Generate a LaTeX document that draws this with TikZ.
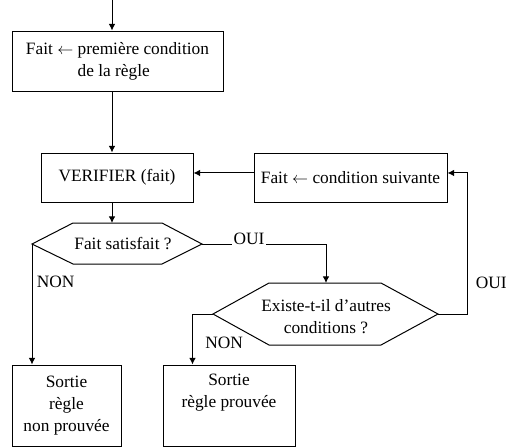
\documentclass[tikz,border=0pt]{standalone}
\usepackage{fontspec}
\setmainfont{Liberation Serif}
\usepackage{tikz}
\usetikzlibrary{positioning}
\usetikzlibrary{arrows.meta,shapes}
\usetikzlibrary{calc}
\tikzstyle{box}=[rectangle,draw,align=center,inner sep=0pt]
\tikzstyle{edge} = [draw,-{Latex[length=5pt,width=5pt]}]
\tikzstyle{hexedge} = [draw]
\tikzstyle{weight} = [inner sep=1pt]
\tikzset{hextext/.style={align=center,inner sep=0pt}}

\begin{document}
\begin{tikzpicture}[x=0.75pt,y=-0.75pt,line width=0.75pt,font=\fontsize{13}{16.5}\selectfont]
\useasboundingbox (0,0) rectangle (532,447);

 %first condition
 \node[box,minimum width=158.25pt,minimum height=45pt,align=left] (prem) at (117.5,61)
   {Fait $\leftarrow$ première condition\\\hphantom{Fait $\leftarrow$ }de la règle};

 %verifier + next condition
 \foreach \x/\y/\w/\name/\label in {117/177.5/152/verif/{VERIFIER (fait)}, 350.5/177.5/193/suiv/{Fait $\leftarrow$ condition suivante}}
          \node[box,minimum width=\w*0.75pt,minimum height=36.75pt] (\name) at (\x,\y) {\label};

 %exits
 \foreach \x/\y/\w/\name/\label in {66.5/405.5/109/sortA/{Sortie\\règle\\non prouvée}, 229/405.5/132/sortB/{Sortie\\règle prouvée\\\strut}}
          \node[box,minimum width=\w*0.75pt,minimum height=60.75pt] (\name) at (\x,\y) {\label};

 %Fait satisfait ?
 \node[hextext] (sat) at (123,244) {Fait satisfait ?};
 \coordinate (satL) at (32,244);
 \coordinate (satR) at (202,244);
 \coordinate (satT) at (117,223);
 \path[hexedge] (satL) -- (73,223) -- (162,223) -- (satR) -- (162,264) -- (73,264) -- cycle;

 %Existe-t-il ...
 \node[hextext] (exist) at (326,317) {Existe-t-il d’autres\\conditions ?};
 \coordinate (exL) at (213,314);
 \coordinate (exR) at (438,314);
 \coordinate (exT) at (326,283);
 \path[hexedge] (exL) -- (269,283) -- (381,283) -- (exR) -- (381,345) -- (269,345) -- cycle;

 %connectors
 \coordinate (entry) at (112,0);
 \path[edge] (entry) -- (entry |- prem.north);
 \path[edge] (entry |- prem.south) -- (entry |- verif.north);
 \path[edge] (entry |- verif.south) -- (entry |- satT);
 \path[edge] ([yshift=3.4pt]suiv.west) -- ([yshift=3.4pt]verif.east);
 \path[edge] (satR) -| node[weight,pos=0.19,anchor=base,fill=white] {OUI} (exT);
 \path[edge] (exR) -- ++(29,0) |- node[pos=0.11,right,xshift=3pt] {OUI} ([yshift=3.4pt]suiv.east);
 \path[edge] (satL) -- node[pos=0.31,right] {NON} (satL |- sortA.north);
 \path[edge] (exL) -| node[pos=0.79,right,xshift=6pt] {NON} ($(sortB.north west)+(30,0)$);

\end{tikzpicture}
\end{document}
